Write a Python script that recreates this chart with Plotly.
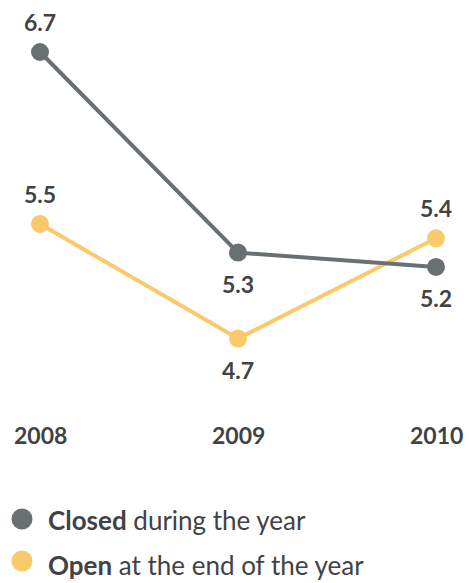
import plotly.graph_objects as go

years = ["2008", "2009", "2010"]
closed = [6.7, 5.3, 5.2]
open_ = [5.5, 4.7, 5.4]
closed_label_pos = ["above", "below", "below"]
open_label_pos = ["above", "below", "above"]

GRAY = "#687074"
YELLOW = "#f9c96b"
TEXT = "#3f4345"
FONT = "Lato"

W, H = 470, 583
xi = list(range(len(years)))

fig = go.Figure()
fig.add_trace(go.Scatter(x=xi, y=open_, mode="lines+markers",
                         line=dict(color=YELLOW, width=4),
                         marker=dict(color=YELLOW, size=18),
                         showlegend=False, hoverinfo="skip"))
fig.add_trace(go.Scatter(x=xi, y=closed, mode="lines+markers",
                         line=dict(color=GRAY, width=4),
                         marker=dict(color=GRAY, size=18),
                         showlegend=False, hoverinfo="skip"))

ann = []
for vals, pos in ((closed, closed_label_pos), (open_, open_label_pos)):
    for x, v, p in zip(xi, vals, pos):
        ann.append(dict(x=x, y=v, xref="x", yref="y", text=f"<b>{v:.1f}</b>",
                        showarrow=False, yshift=30 if p == "above" else -31,
                        yanchor="middle",
                        font=dict(family=FONT, size=23, color=TEXT)))
for x, lab in zip(xi, years):
    ann.append(dict(x=x, y=1 - 435 / H, xref="x", yref="paper", text=f"<b>{lab}</b>",
                    showarrow=False, yanchor="middle",
                    font=dict(family=FONT, size=23, color=TEXT)))

shapes = []
legend_items = [("Closed", "during the year", GRAY, 519, 520),
                ("Open", "at the end of the year", YELLOW, 561, 565)]
for bold, rest, col, py, ty in legend_items:
    r = 10.5
    shapes.append(dict(type="circle", xref="paper", yref="paper",
                       x0=(22 - r) / W, x1=(22 + r) / W,
                       y0=1 - (py + r) / H, y1=1 - (py - r) / H,
                       fillcolor=col, line=dict(width=0)))
    ann.append(dict(x=46 / W, y=1 - ty / H, xref="paper", yref="paper",
                    xanchor="left", yanchor="middle", showarrow=False,
                    text=f"<b>{bold}</b> {rest}",
                    font=dict(family=FONT, size=26, color=TEXT)))

x0, x1 = -40 / 198, -40 / 198 + W / 198
ppu = 143.3
y_top = 6.7 + 52 / ppu
y_bot = 6.7 - (H - 52) / ppu

fig.update_layout(
    width=W, height=H,
    margin=dict(l=0, r=0, t=0, b=0),
    paper_bgcolor="white", plot_bgcolor="white",
    xaxis=dict(range=[x0, x1], visible=False, fixedrange=True),
    yaxis=dict(range=[y_bot, y_top], visible=False, fixedrange=True),
    annotations=ann, shapes=shapes,
)

fig.write_html("out.html", config={"displayModeBar": False})
with open("out.html", "r", encoding="utf-8") as f:
    html = f.read()
html = html.replace("<head>", "<head><style>body{margin:0;}</style>", 1)
with open("out.html", "w", encoding="utf-8") as f:
    f.write(html)
